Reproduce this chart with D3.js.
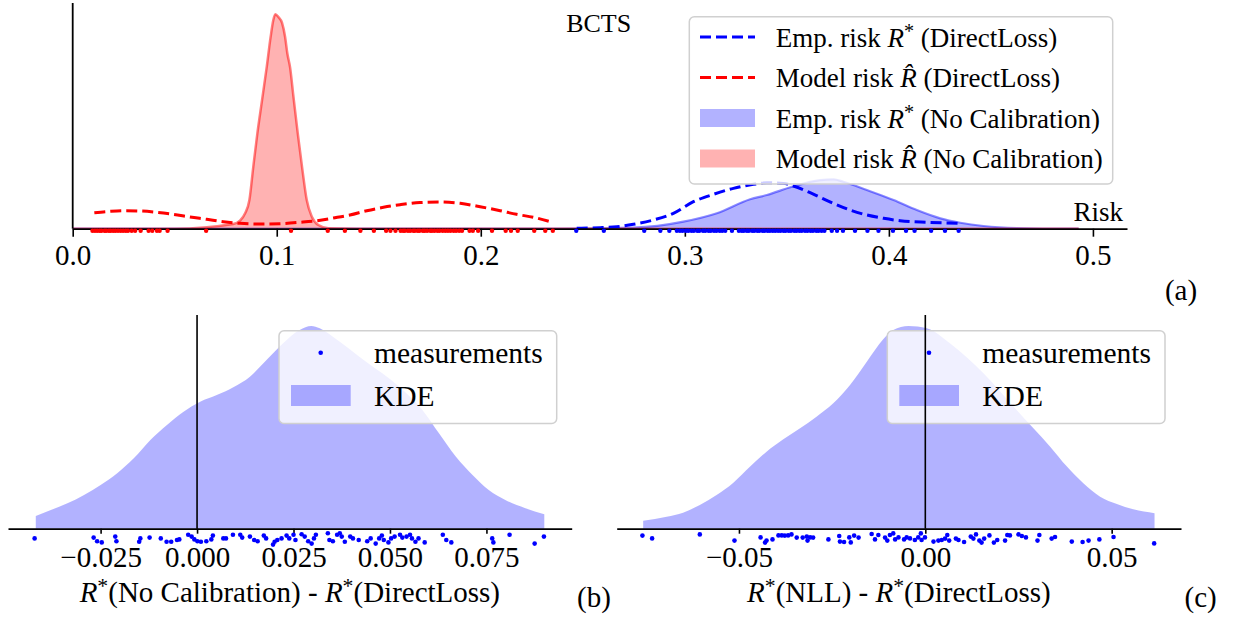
<!DOCTYPE html>
<html>
<head>
<meta charset="utf-8">
<script src="https://cdn.jsdelivr.net/npm/d3@7"></script>
<style>
  html, body { margin: 0; padding: 0; background: #fff; }
  svg text { font-family: "Liberation Serif", "DejaVu Serif", serif; fill: #000; }
</style>
</head>
<body>
<svg id="figure" width="1237" height="621"></svg>
<script>
/*
Data
*/

// (a) risk axis
const riskTicks = [0.0, 0.1, 0.2, 0.3, 0.4, 0.5];

// (a) KDE curves, [risk, density]
const modelRiskNoCal = [[0.0, 0], [0.05, 0], [0.0787, 1.25], [0.0820, 2.12], [0.0845, 4.09], [0.0866, 7.62],
  [0.0885, 16.46], [0.0905, 25.33], [0.0928, 34.17], [0.0951, 43.01], [0.0970, 50.98], [0.0983, 55.41],
  [0.0993, 57.0], [0.1008, 56.29], [0.1026, 54.69], [0.1041, 50.98], [0.1052, 46.57], [0.1065, 43.01],
  [0.1082, 35.05], [0.1103, 25.33], [0.1126, 15.58], [0.1147, 7.62], [0.1172, 3.19], [0.1204, 0.98],
  [0.1253, 0.13], [0.14, 0], [0.493, 0]];

const empRiskNoCal = [[0.0, 0], [0.24, 0], [0.2748, 0.27], [0.2993, 1.86], [0.3157, 4.09], [0.3320, 7.81],
  [0.3402, 8.95], [0.3525, 11.15], [0.3663, 12.93], [0.3729, 13.12], [0.3777, 12.48], [0.3892, 10.27],
  [0.4023, 7.62], [0.4137, 4.96], [0.4252, 2.76], [0.4350, 1.59], [0.4464, 0.72], [0.4627, 0.19], [0.493, 0]];

const empRiskDirect = [[0.2470, 0.11], [0.2585, 0.27], [0.2667, 0.53], [0.2748, 1.17], [0.2846, 2.31],
  [0.2944, 4.09], [0.3042, 7.17], [0.3140, 9.13], [0.3238, 10.73], [0.3336, 11.79], [0.3402, 12.21],
  [0.3483, 12.05], [0.3532, 11.34], [0.3614, 9.56], [0.3663, 8.34], [0.3728, 6.74], [0.3810, 4.96],
  [0.3892, 3.64], [0.3974, 2.76], [0.4055, 2.12], [0.4186, 1.70], [0.4346, 1.43]];

const modelRiskDirect = [[0.0106, 4.25], [0.0183, 4.62], [0.0248, 4.78], [0.0330, 4.70], [0.0412, 4.35],
  [0.0493, 3.82], [0.0575, 3.11], [0.0657, 2.50], [0.0738, 1.86], [0.0820, 1.43], [0.0918, 1.25],
  [0.1016, 1.33], [0.1114, 1.70], [0.1196, 2.12], [0.1277, 2.84], [0.1359, 3.64], [0.1441, 4.78],
  [0.1523, 5.68], [0.1604, 6.37], [0.1702, 6.95], [0.1800, 7.09], [0.1899, 6.74], [0.1997, 5.84],
  [0.2095, 4.78], [0.2175, 3.82], [0.2258, 3.03], [0.2340, 1.86]];

// (a) rug of the DirectLoss measurements
const modelRiskDirectPts = [0.0097, 0.0109, 0.0120, 0.0132, 0.0141, 0.0156, 0.0164, 0.0177, 0.0186, 0.0198,
  0.0209, 0.0222, 0.0235, 0.0247, 0.0260, 0.0271, 0.0289, 0.0306, 0.0333, 0.0372, 0.0390, 0.0413, 0.0426,
  0.0465, 0.0654, 0.1070, 0.1250, 0.1334, 0.1410, 0.1476, 0.1536, 0.1557, 0.1582, 0.1607, 0.1619, 0.1628,
  0.1643, 0.1654, 0.1669, 0.1677, 0.1691, 0.1700, 0.1716, 0.1725, 0.1737, 0.1752, 0.1761, 0.1773, 0.1787,
  0.1798, 0.1813, 0.1826, 0.1839, 0.1852, 0.1867, 0.1879, 0.1894, 0.1908, 0.1945, 0.1961, 0.1987, 0.2055,
  0.2122, 0.2148, 0.2181, 0.2262, 0.2316, 0.2353];

const empRiskDirectPts = [0.2468, 0.2603, 0.2801, 0.2880, 0.2924, 0.2961, 0.2976, 0.2989, 0.3005, 0.3017,
  0.3032, 0.3044, 0.3061, 0.3071, 0.3089, 0.3100, 0.3116, 0.3127, 0.3143, 0.3155, 0.3171, 0.3183, 0.3198,
  0.3231, 0.3265, 0.3279, 0.3289, 0.3304, 0.3314, 0.3330, 0.3340, 0.3355, 0.3365, 0.3381, 0.3391, 0.3406,
  0.3417, 0.3431, 0.3443, 0.3457, 0.3469, 0.3484, 0.3494, 0.3509, 0.3520, 0.3536, 0.3547, 0.3561, 0.3573,
  0.3589, 0.3601, 0.3616, 0.3628, 0.3644, 0.3655, 0.3670, 0.3684, 0.3720, 0.3746, 0.3775, 0.3834, 0.3895,
  0.3949, 0.4020, 0.4084, 0.4126, 0.4207, 0.4275, 0.4342];

// (b) R*(No Calibration) - R*(DirectLoss)
const diffNoCalTicks = [-0.025, 0.0, 0.025, 0.05, 0.075];
const diffNoCalKde = [[-0.0418, 0.88], [-0.0379, 1.29], [-0.0336, 1.75], [-0.0293, 2.33], [-0.0250, 3.02],
  [-0.0207, 3.83], [-0.0164, 4.86], [-0.0121, 6.13], [-0.0078, 7.16], [-0.0035, 8.08], [0.0008, 8.77],
  [0.0051, 9.23], [0.0094, 9.77], [0.0137, 10.50], [0.0180, 11.65], [0.0223, 12.81], [0.0266, 13.72],
  [0.0296, 14.0], [0.0318, 13.84], [0.0352, 13.26], [0.0438, 11.53], [0.0524, 9.81], [0.0584, 8.20],
  [0.0627, 6.59], [0.0671, 4.97], [0.0714, 3.71], [0.0756, 2.67], [0.0799, 1.98], [0.0851, 1.41], [0.0900, 0.99]];
const diffNoCalPts = [-0.0421, -0.0268, -0.0259, -0.0247, -0.0212, -0.0209, -0.0150, -0.0147, -0.0123, -0.0094,
  -0.0079, -0.0067, -0.0052, -0.0046, -0.0023, -0.0014, -0.0007, 0.0001, 0.0010, 0.0024, 0.0037, 0.0041,
  0.0068, 0.0075, 0.0093, 0.0112, 0.0117, 0.0137, 0.0148, 0.0157, 0.0173, 0.0179, 0.0197, 0.0201, 0.0208,
  0.0219, 0.0232, 0.0239, 0.0250, 0.0255, 0.0271, 0.0279, 0.0288, 0.0297, 0.0303, 0.0308, 0.0339, 0.0343,
  0.0352, 0.0363, 0.0370, 0.0375, 0.0383, 0.0397, 0.0404, 0.0419, 0.0441, 0.0450, 0.0463, 0.0472, 0.0479,
  0.0484, 0.0496, 0.0503, 0.0512, 0.0526, 0.0532, 0.0543, 0.0552, 0.0557, 0.0566, 0.0574, 0.0590, 0.0637,
  0.0646, 0.0659, 0.0765, 0.0768, 0.0810, 0.0875, 0.0899];
const diffNoCalJitter = [.52, .48, .66, .72, .43, .66, .69, .52, .48, .52, .69, .69, .60, .57, .34, .43, .57,
  .66, .69, .66, .57, .38, .52, .52, .34, .34, .48, .43, .60, .66, .38, .52, .83, .69, .60, .52, .38, .52,
  .34, .60, .31, .43, .66, .78, .52, .34, .26, .60, .66, .34, .26, .43, .69, .43, .52, .60, .66, .52, .78,
  .52, .38, .60, .72, .52, .43, .34, .48, .43, .34, .52, .69, .52, .72, .34, .60, .72, .52, .72, .34, .78, .43];

// (c) R*(NLL) - R*(DirectLoss)
const diffNllTicks = [-0.05, 0.0, 0.05];
const diffNllKde = [[-0.0757, 0.51], [-0.0694, 0.77], [-0.0650, 1.03], [-0.0605, 1.52], [-0.0560, 2.16],
  [-0.0515, 2.95], [-0.0470, 3.98], [-0.0426, 4.94], [-0.0381, 5.73], [-0.0336, 6.44], [-0.0292, 7.18],
  [-0.0247, 8.04], [-0.0202, 9.22], [-0.0157, 10.71], [-0.0113, 12.15], [-0.0086, 12.74], [-0.0045, 13.0],
  [0.0004, 12.85], [0.0066, 11.89], [0.0156, 9.97], [0.0245, 7.61], [0.0290, 6.44], [0.0335, 5.26],
  [0.0380, 3.98], [0.0424, 2.91], [0.0469, 2.05], [0.0514, 1.58], [0.0558, 1.24], [0.0615, 0.99]];
const diffNllPts = [-0.0759, -0.0733, -0.0605, -0.0512, -0.0442, -0.0430, -0.0426, -0.0410, -0.0394, -0.0385,
  -0.0377, -0.0368, -0.0359, -0.0345, -0.0329, -0.0318, -0.0316, -0.0309, -0.0301, -0.0260, -0.0231, -0.0229,
  -0.0218, -0.0204, -0.0200, -0.0191, -0.0179, -0.0144, -0.0135, -0.0126, -0.0108, -0.0102, -0.0095, -0.0086,
  -0.0081, -0.0072, -0.0057, -0.0050, -0.0041, -0.0028, -0.0019, -0.0012, -0.0010, -0.0001, 0.0022, 0.0035,
  0.0044, 0.0053, 0.0059, 0.0064, 0.0082, 0.0089, 0.0104, 0.0122, 0.0129, 0.0136, 0.0145, 0.0151, 0.0158,
  0.0172, 0.0184, 0.0193, 0.0214, 0.0220, 0.0227, 0.0250, 0.0259, 0.0270, 0.0301, 0.0306, 0.0339, 0.0348,
  0.0393, 0.0422, 0.0438, 0.0467, 0.0505, 0.0614];
const diffNllJitter = [.38, .52, .32, .63, .47, .73, .63, .57, .37, .37, .38, .37, .32, .48, .48, .43, .63, .47,
  .48, .57, .40, .68, .70, .47, .72, .38, .48, .30, .57, .35, .48, .63, .35, .27, .57, .47, .57, .47, .52, .60,
  .47, .27, .60, .47, .68, .63, .60, .53, .35, .63, .53, .60, .70, .43, .53, .32, .63, .73, .53, .37, .73, .60,
  .63, .35, .37, .32, .40, .47, .63, .35, .53, .45, .68, .70, .63, .57, .45, .77];

/*
Helpers
*/

// write text with italic R and raised asterisk / hat parts
function writeMath(text, parts, size) {
  let raised = false;
  parts.forEach(p => {
    const span = text.append("tspan").text(p.s);
    if (p.it) span.attr("font-style", "italic");
    if (p.sup) {
      span.attr("font-size", size * 0.75).attr("dy", -size * 0.3);
      raised = true;
    } else if (raised) {
      span.attr("dy", size * 0.3);
      raised = false;
    }
  });
  return text;
}

const rStar = [{ s: "R", it: true }, { s: "*", sup: true }];
const rHat = [{ s: "R\u0302", it: true }];

function bottomAxis(g, x, ticks, fmt, tickLen, pad, size) {
  const ax = g.call(d3.axisBottom(x)
      .tickValues(ticks)
      .tickFormat(fmt)
      .tickSize(tickLen)
      .tickSizeOuter(0)
      .tickPadding(pad))
    .attr("font-family", null)
    .attr("font-size", size);
  ax.select(".domain").attr("stroke", "#000").attr("stroke-width", 1.8);
  ax.selectAll(".tick line").attr("stroke", "#000").attr("stroke-width", 1.6);
  ax.selectAll(".tick text").attr("fill", "#000");
  return ax;
}

const svg = d3.select("#figure");

/*
Panel (a)
*/

const xTop = d3.scaleLinear().domain([0, 0.5167]).range([72.7, 1127]);
const yTop = d3.scaleLinear().domain([0, 60]).range([228.7, 3]);

const areaTop = d3.area()
  .x(d => xTop(d[0]))
  .y0(yTop(0))
  .y1(d => yTop(d[1]))
  .curve(d3.curveMonotoneX);

const lineTop = d3.line()
  .x(d => xTop(d[0]))
  .y(d => yTop(d[1]))
  .curve(d3.curveMonotoneX);

const panelA = svg.append("g").classed("panel-a", true);

// filled KDEs (No Calibration)
panelA.append("path").attr("d", areaTop(empRiskNoCal))
  .attr("fill", "blue").attr("fill-opacity", 0.3);
panelA.append("path").attr("d", lineTop(empRiskNoCal))
  .attr("fill", "none").attr("stroke", "blue").attr("stroke-opacity", 0.45).attr("stroke-width", 2.2);
panelA.append("path").attr("d", areaTop(modelRiskNoCal))
  .attr("fill", "red").attr("fill-opacity", 0.3);
panelA.append("path").attr("d", lineTop(modelRiskNoCal))
  .attr("fill", "none").attr("stroke", "red").attr("stroke-opacity", 0.5).attr("stroke-width", 2.5);

// dashed KDEs (DirectLoss)
panelA.append("path").attr("d", lineTop(empRiskDirect))
  .attr("fill", "none").attr("stroke", "blue").attr("stroke-width", 3).attr("stroke-dasharray", "11,5");
panelA.append("path").attr("d", lineTop(modelRiskDirect))
  .attr("fill", "none").attr("stroke", "red").attr("stroke-width", 3).attr("stroke-dasharray", "11,5");

// axes
bottomAxis(panelA.append("g").attr("transform", `translate(0,${yTop(0)})`),
  xTop, riskTicks, d3.format(".1f"), 8, 8, 29);
panelA.append("line")
  .attr("x1", xTop(0)).attr("x2", xTop(0))
  .attr("y1", yTop.range()[1]).attr("y2", yTop(0))
  .attr("stroke", "#000").attr("stroke-width", 1.8);

// rug
panelA.append("g").selectAll("circle")
  .data(modelRiskDirectPts)
  .enter()
  .append("circle")
  .attr("cx", d => xTop(d)).attr("cy", yTop(0) + 2).attr("r", 2.2).attr("fill", "red");
panelA.append("g").selectAll("circle")
  .data(empRiskDirectPts)
  .enter()
  .append("circle")
  .attr("cx", d => xTop(d)).attr("cy", yTop(0) + 2).attr("r", 2.2).attr("fill", "blue");

panelA.append("text").attr("x", 598.7).attr("y", 32).attr("text-anchor", "middle")
  .attr("font-size", 26).text("BCTS");
panelA.append("text").attr("x", 1123).attr("y", 221).attr("text-anchor", "end")
  .attr("font-size", 27).text("Risk");

// legend
const legA = panelA.append("g").classed("legend", true);
legA.append("rect")
  .attr("x", 689.3).attr("y", 16.7).attr("width", 423.4).attr("height", 167.3)
  .attr("rx", 5).attr("fill", "#fff").attr("fill-opacity", 0.8)
  .attr("stroke", "#d0d0d0").attr("stroke-width", 1.5);

const legAEntries = [
  { kind: "line", color: "blue", parts: [{ s: "Emp. risk " }, ...rStar, { s: " (DirectLoss)" }] },
  { kind: "line", color: "red", parts: [{ s: "Model risk " }, ...rHat, { s: " (DirectLoss)" }] },
  { kind: "patch", color: "blue", parts: [{ s: "Emp. risk " }, ...rStar, { s: " (No Calibration)" }] },
  { kind: "patch", color: "red", parts: [{ s: "Model risk " }, ...rHat, { s: " (No Calibration)" }] }
];

legAEntries.forEach((e, i) => {
  const cy = 37 + i * 40.5;
  if (e.kind === "line") {
    legA.append("line")
      .attr("x1", 700).attr("x2", 755).attr("y1", cy).attr("y2", cy)
      .attr("stroke", e.color).attr("stroke-width", 3).attr("stroke-dasharray", "11,5");
  } else {
    legA.append("rect")
      .attr("x", 700).attr("y", cy - 9).attr("width", 55).attr("height", 18)
      .attr("fill", e.color).attr("fill-opacity", 0.3);
  }
  writeMath(legA.append("text").attr("x", 775.7).attr("y", cy + 9.5).attr("font-size", 27), e.parts, 27);
});

svg.append("text").attr("x", 1181).attr("y", 300).attr("text-anchor", "middle")
  .attr("font-size", 29).text("(a)");

/*
Panels (b) and (c)
*/

function diffPanel(cfg) {
  const self = {};
  self.x = d3.scaleLinear().domain(cfg.domain).range(cfg.range);
  self.y = d3.scaleLinear().domain([0, cfg.yMax]).range([528.7, 315]);
  self.j = d3.scaleLinear().domain([0, 1]).range([528, 548]);

  const g = svg.append("g").classed(cfg.name, true);

  g.append("path")
    .attr("d", d3.area()
      .x(d => self.x(d[0]))
      .y0(self.y(0))
      .y1(d => self.y(d[1]))
      .curve(d3.curveMonotoneX)(cfg.kde))
    .attr("fill", "blue").attr("fill-opacity", 0.3);

  bottomAxis(g.append("g").attr("transform", `translate(0,${self.y(0)})`),
    self.x, cfg.ticks, d3.format(cfg.fmt), 5, 13, 29);

  g.append("g").selectAll("circle")
    .data(cfg.pts)
    .enter()
    .append("circle")
    .attr("cx", d => self.x(d))
    .attr("cy", (d, i) => self.j(cfg.jitter[i]))
    .attr("r", 2.3)
    .attr("fill", "blue");

  // legend
  const lx = cfg.legendX;
  const leg = g.append("g").classed("legend", true);
  leg.append("rect")
    .attr("x", lx).attr("y", 330.7).attr("width", 277.7).attr("height", 92.8)
    .attr("rx", 5).attr("fill", "#fff").attr("fill-opacity", 0.8)
    .attr("stroke", "#d0d0d0").attr("stroke-width", 1.5);
  leg.append("circle").attr("cx", lx + 41.7).attr("cy", 352.7).attr("r", 2.3).attr("fill", "blue");
  leg.append("text").attr("x", lx + 95).attr("y", 362.5).attr("font-size", 29.5).text("measurements");
  leg.append("rect").attr("x", lx + 12).attr("y", 385).attr("width", 59.7).attr("height", 21)
    .attr("fill", "blue").attr("fill-opacity", 0.3);
  leg.append("text").attr("x", lx + 95).attr("y", 405.5).attr("font-size", 29.5).text("KDE");

  // zero line
  g.append("line")
    .attr("x1", self.x(0)).attr("x2", self.x(0))
    .attr("y1", 315).attr("y2", self.y(0))
    .attr("stroke", "#000").attr("stroke-width", 1.6);

  const cx = (cfg.range[0] + cfg.range[1]) / 2;
  writeMath(g.append("text").attr("x", cx).attr("y", 602).attr("text-anchor", "middle")
    .attr("font-size", 29), cfg.label, 29);

  g.append("text").attr("x", cfg.tagX).attr("y", 607).attr("text-anchor", "middle")
    .attr("font-size", 29).text(cfg.tag);

  return self;
}

diffPanel({
  name: "panel-b",
  domain: [-0.0490, 0.0971],
  range: [8, 571.7],
  yMax: 14.76,
  kde: diffNoCalKde,
  pts: diffNoCalPts,
  jitter: diffNoCalJitter,
  ticks: diffNoCalTicks,
  fmt: ".3f",
  legendX: 279,
  label: [...rStar, { s: "(No Calibration) - " }, ...rStar, { s: "(DirectLoss)" }],
  tag: "(b)",
  tagX: 594
});

diffPanel({
  name: "panel-c",
  domain: [-0.0828, 0.0686],
  range: [616.7, 1181],
  yMax: 13.7,
  kde: diffNllKde,
  pts: diffNllPts,
  jitter: diffNllJitter,
  ticks: diffNllTicks,
  fmt: ".2f",
  legendX: 887.3,
  label: [...rStar, { s: "(NLL) - " }, ...rStar, { s: "(DirectLoss)" }],
  tag: "(c)",
  tagX: 1200.7
});
</script>
</body>
</html>
